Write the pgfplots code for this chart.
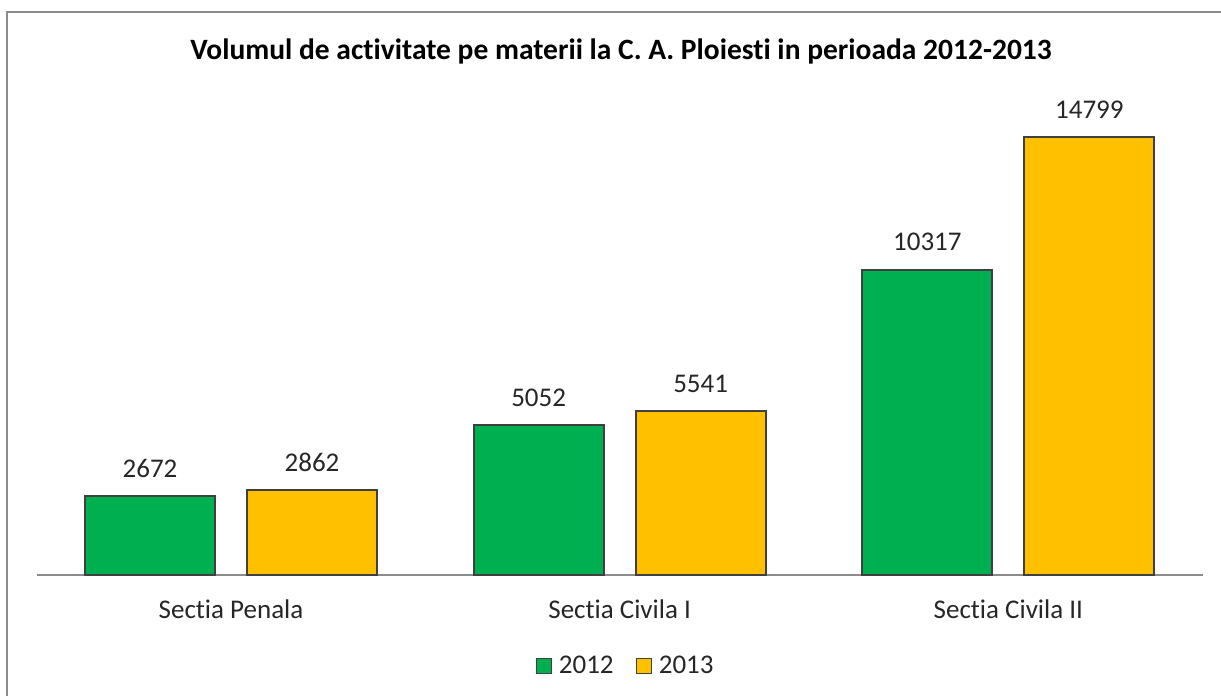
\documentclass[border=0pt]{standalone}
\usepackage{pgfplots}
\pgfplotsset{compat=1.18}
\usepackage{fontspec}
\setmainfont{Carlito}[Ligatures=NoCommon]
\definecolor{cgreen}{HTML}{00B050}
\definecolor{cgold}{HTML}{FFC000}
\definecolor{cedge}{HTML}{404040}
\definecolor{cframe}{HTML}{8C8C8C}
\begin{document}
\begin{tikzpicture}[x=0.5pt,y=0.5pt]
\path[use as bounding box] (0,0) rectangle (1221,696);
\draw[cframe,line width=1.2pt] (7,-5) -- (7,684) -- (1230,684);
\node[font=\fontsize{14.75}{17}\selectfont\bfseries] at (621,645) {Volumul de activitate pe materii la C. A. Ploiesti in perioada 2012-2013};
\begin{axis}[
  at={(115.5pt,60.5pt)}, anchor=origin,
  scale only axis, width=583pt, height=236.8pt,
  xmin=-0.5, xmax=2.5, ymin=0, ymax=16000,
  ybar=16pt, bar width=65pt,
  axis x line=bottom, axis y line=none,
  axis line style={draw=cframe, line width=0.7pt, -},
  xtick={0,1,2}, xticklabels={Sectia Penala, Sectia Civila I, Sectia Civila II},
  major tick length=0pt,
  xticklabel style={font=\fontsize{13.5}{16}\selectfont, text=black!85, yshift=-9pt},
  /pgf/number format/assume math mode=true,
  /pgf/number format/1000 sep={},
  nodes near coords,
  nodes near coords style={font=\fontsize{13.5}{16}\selectfont, text=black!85, yshift=5.5pt},
  legend columns=2,
  legend style={at={(0.506,-0.192)}, anchor=center, draw=none, fill=none,
    font=\fontsize{13.5}{16}\selectfont, text=black!85,
    /tikz/every odd column/.append style={column sep=1.5pt},
    /tikz/every even column/.append style={column sep=9pt}},
  legend image code/.code={\draw[#1,draw=cedge,line width=0.6pt] (0pt,-3.75pt) rectangle (7.5pt,3.75pt);},
  clip=false,
]
\addplot[fill=cgreen, draw=cedge, line width=1pt] coordinates {(0,2672) (1,5052) (2,10317)};
\addplot[fill=cgold, draw=cedge, line width=1pt] coordinates {(0,2862) (1,5541) (2,14799)};
\legend{2012,2013}
\end{axis}
\end{tikzpicture}
\end{document}
